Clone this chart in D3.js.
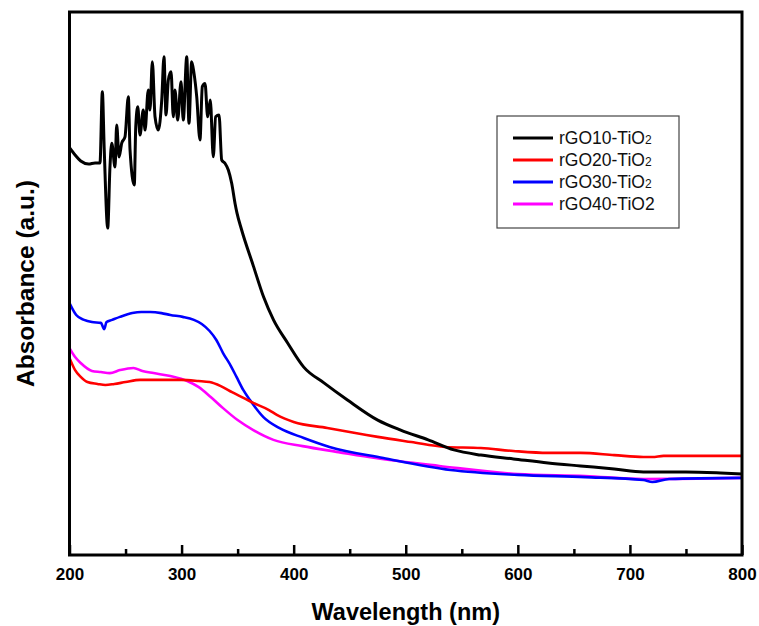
<!DOCTYPE html>
<html>
<head>
<meta charset="utf-8">
<script src="https://cdn.jsdelivr.net/npm/d3@7"></script>
<style>
  body { margin: 0; background: #fff; }
  svg { display: block; }
  text { font-family: Arial, "Liberation Sans", sans-serif; }
</style>
</head>
<body>
<svg id="svg"></svg>
<script>
// series data: [wavelength (nm), absorbance (a.u.)]
let rgo10 = [
  [200, 1.50], [205, 1.473], [210, 1.451], [217, 1.44], [222.8, 1.444], [227.2, 1.444],
  [229.3, 1.706], [231, 1.492], [234.1, 1.204], [236.1, 1.429], [237.7, 1.517], [240.6, 1.429],
  [242.1, 1.584], [244.2, 1.466], [246.6, 1.517], [249.5, 1.54], [252.5, 1.688], [254, 1.492],
  [257.8, 1.363], [259.1, 1.576], [260.9, 1.651], [262.9, 1.547], [265.8, 1.639], [267.4, 1.565],
  [270.3, 1.713], [271.8, 1.639], [273.9, 1.817], [276.3, 1.614], [279.2, 1.565], [282.3, 1.676],
  [284.3, 1.835], [286.1, 1.621], [288.2, 1.75], [290.6, 1.78], [292.6, 1.614], [294.1, 1.713],
  [296.5, 1.602], [299.5, 1.743], [301.5, 1.602], [304.6, 1.835], [306.6, 1.59], [309, 1.817],
  [311.1, 1.774], [313.5, 1.688], [316.4, 1.529], [318.5, 1.725], [320.9, 1.737], [323.3, 1.614],
  [325.6, 1.676], [328.3, 1.467], [330.4, 1.614], [333.4, 1.621], [335.8, 1.455], [338.7, 1.443],
  [341.7, 1.418], [344.7, 1.369], [347.7, 1.295], [349.4, 1.26], [353.6, 1.197],
  [364, 1.065], [373.2, 0.95], [382, 0.866], [394.6, 0.781], [409, 0.692], [427, 0.634],
  [448, 0.571], [475, 0.497], [495.5, 0.46], [520, 0.424], [543, 0.387], [567, 0.368],
  [596, 0.354], [627, 0.339], [656, 0.328], [686, 0.317], [712, 0.306], [750, 0.306],
  [781, 0.302], [800, 0.298]
];
let rgo20 = [
  [200, 0.726], [205, 0.681], [210, 0.656], [216, 0.637], [225, 0.63], [232, 0.626],
  [240, 0.63], [250, 0.637], [263, 0.645], [280, 0.645], [300, 0.645], [315, 0.641],
  [325, 0.637], [335, 0.622], [345, 0.60], [357, 0.575], [364, 0.56], [378, 0.534],
  [385, 0.516], [400, 0.49], [430, 0.468], [460, 0.446], [475, 0.435], [505, 0.416],
  [535, 0.398], [567, 0.394], [596, 0.383], [627, 0.376], [656, 0.376], [686, 0.368],
  [712, 0.361], [720, 0.361], [730, 0.365], [800, 0.365]
];
let rgo30 = [
  [200, 0.928], [206, 0.884], [213, 0.866], [220, 0.858], [228, 0.855], [231, 0.832],
  [233, 0.858], [238, 0.866], [245, 0.877], [256, 0.891], [264, 0.895], [272, 0.895],
  [282, 0.891], [290, 0.884], [301, 0.877], [311, 0.866], [318, 0.851], [325, 0.825],
  [331, 0.792], [337, 0.744], [344, 0.696], [349, 0.656], [355, 0.608], [361, 0.571],
  [373, 0.508], [387, 0.468], [409, 0.431], [432, 0.398], [480, 0.357], [540, 0.313],
  [600, 0.295], [660, 0.287], [712, 0.276], [720, 0.269], [735, 0.28], [800, 0.284]
];
let rgo40 = [
  [200, 0.762], [205, 0.729], [210, 0.707], [220, 0.678], [228, 0.674], [236, 0.67],
  [245, 0.681], [257, 0.689], [265, 0.678], [275, 0.67], [290, 0.659], [305, 0.641],
  [315, 0.619], [326, 0.582], [337, 0.541], [350, 0.497], [364, 0.46], [382, 0.424],
  [408, 0.401], [440, 0.379], [473, 0.357], [530, 0.328], [600, 0.298], [660, 0.291],
  [712, 0.28], [800, 0.284]
];

let seriesNames = ["rGO10-TiO2", "rGO20-TiO2", "rGO30-TiO2", "rGO40-TiO2"];
let seriesData = [rgo10, rgo20, rgo30, rgo40];
let colors = ["#000000", "#ff0000", "#0000ff", "#ff00ff"];
let majorTicks = [200, 300, 400, 500, 600, 700, 800];
let minorTicks = [250, 350, 450, 550, 650, 750];

let width = 759, height = 626;
let plotLeft = 69.5, plotRight = 742, plotTop = 12, plotBottom = 555;

let svg = d3.select("#svg")
    .attr("width", width)
    .attr("height", height);

let x = d3.scaleLinear().domain([200, 800]).range([plotLeft, plotRight]);
let y = d3.scaleLinear().domain([0, 2]).range([plotBottom, plotTop]);

svg.append("clipPath").attr("id", "clip")
  .append("rect")
    .attr("x", plotLeft).attr("y", plotTop)
    .attr("width", plotRight - plotLeft).attr("height", plotBottom - plotTop);

let line = d3.line()
    .x(d => x(d[0]))
    .y(d => y(d[1]))
    .curve(d3.curveMonotoneX);

// draw order: magenta, blue, red, black on top
let gLines = svg.append("g").attr("clip-path", "url(#clip)");
[3, 2, 1, 0].forEach(i => {
  gLines.append("path")
    .datum(seriesData[i])
    .attr("fill", "none")
    .attr("stroke", colors[i])
    .attr("stroke-width", i == 0 ? 3 : 2.6)
    .attr("stroke-linejoin", "round")
    .attr("d", line);
});

// bottom axis with inward ticks
let xAxis = d3.axisBottom(x)
    .tickValues(majorTicks)
    .tickSizeInner(-10)
    .tickSizeOuter(0)
    .tickPadding(13)
    .tickFormat(d3.format("d"));

let gx = svg.append("g")
    .attr("transform", `translate(0,${plotBottom})`)
    .call(xAxis);
gx.select(".domain").remove();
gx.selectAll(".tick line").attr("stroke", "#000").attr("stroke-width", 2.5);
gx.selectAll(".tick text")
    .attr("fill", "#000")
    .style("font-size", "17px")
    .style("font-weight", "bold");

let gxMinor = svg.append("g")
    .attr("transform", `translate(0,${plotBottom})`)
    .call(d3.axisBottom(x).tickValues(minorTicks).tickSizeInner(-6).tickSizeOuter(0).tickFormat(""));
gxMinor.select(".domain").remove();
gxMinor.selectAll(".tick line").attr("stroke", "#000").attr("stroke-width", 2.5);

// frame
svg.append("rect")
    .attr("x", plotLeft).attr("y", plotTop)
    .attr("width", plotRight - plotLeft).attr("height", plotBottom - plotTop)
    .attr("fill", "none")
    .attr("stroke", "#000")
    .attr("stroke-width", 3);

// axis titles
svg.append("text")
    .attr("x", (plotLeft + plotRight) / 2)
    .attr("y", 620)
    .attr("text-anchor", "middle")
    .style("font-size", "23.5px")
    .style("font-weight", "bold")
    .text("Wavelength (nm)");

svg.append("text")
    .attr("transform", `translate(34,${(plotTop + plotBottom) / 2}) rotate(-90)`)
    .attr("text-anchor", "middle")
    .style("font-size", "24.5px")
    .style("font-weight", "bold")
    .text("Absorbance (a.u.)");

// legend
let legend = svg.append("g").attr("transform", "translate(497,116)");
legend.append("rect")
    .attr("width", 182).attr("height", 112)
    .attr("fill", "#fff")
    .attr("stroke", "#444")
    .attr("stroke-width", 1.2);

seriesNames.forEach((name, i) => {
  let row = legend.append("g").attr("transform", `translate(0,${22 + i * 22})`);
  row.append("line")
    .attr("x1", 16).attr("x2", 56)
    .attr("stroke", colors[i])
    .attr("stroke-width", 3);
  let t = row.append("text")
    .attr("x", 62).attr("y", 6)
    .style("font-size", "17.5px")
    .attr("fill", "#111");
  if (i < 3) {
    t.append("tspan").text(name.slice(0, -1));
    t.append("tspan").style("font-size", "12px").text("2");
  } else {
    t.text(name);
  }
});
</script>
</body>
</html>
